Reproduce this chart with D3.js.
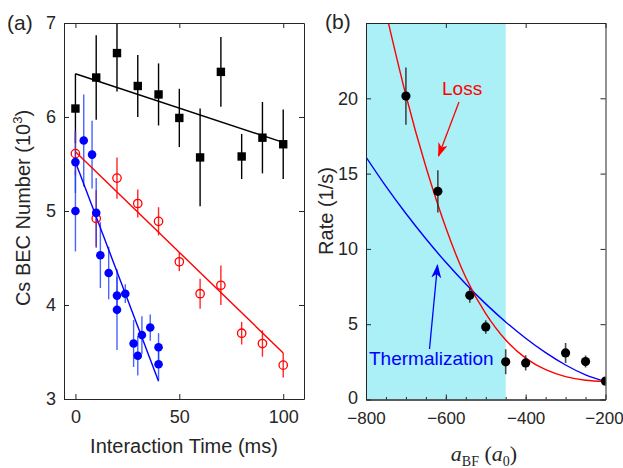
<!DOCTYPE html>
<html lang="en">
<head>
  <meta charset="UTF-8">
  <title>Cs BEC loss and rate</title>
  <script src="https://cdn.jsdelivr.net/npm/d3@7"></script>
  <style>
    body { margin: 0; background: #fff; }
    text { font-family: "Liberation Sans", Arial, sans-serif; fill: #262626; }
    .axis path, .axis line { stroke: #262626; }
    .axis text { font-size: 18px; fill: #262626; font-family: "Liberation Sans", Arial, sans-serif; }
  </style>
</head>
<body>
<svg id="chart" width="623" height="468"></svg>
<script>
  // ---- panel (a) data: Cs BEC number (10^3) vs interaction time (ms)
  const blackTime = [0, 10, 20, 30, 40, 50, 60, 70, 80, 90, 100];
  const blackNum = [6.09, 6.42, 6.68, 6.33, 6.24, 5.99, 5.57, 6.48, 5.58, 5.78, 5.71];
  const blackErr = [0.37, 0.45, 0.41, 0.33, 0.33, 0.31, 0.52, 0.37, 0.24, 0.38, 0.37];

  const redTime = [0, 10, 20, 30, 40, 50, 60, 70, 80, 90, 100];
  const redNum = [5.61, 4.92, 5.35, 5.08, 4.89, 4.46, 4.12, 4.21, 3.70, 3.59, 3.36];
  const redErr = [0.23, 0.30, 0.22, 0.15, 0.15, 0.10, 0.16, 0.21, 0.12, 0.14, 0.13];

  const blueTime = [0, 0, 4, 8, 10, 12, 16, 20, 20, 24, 28, 30, 32, 36, 40, 40];
  const blueNum = [5.52, 5.00, 5.75, 5.60, 4.98, 4.53, 4.34, 4.10, 3.95, 4.12, 3.59, 3.46, 3.68, 3.76, 3.55, 3.37];
  const blueErr = [0.33, 0.43, 0.49, 0.36, 0.37, 0.35, 0.28, 0.20, 0.43, 0.10, 0.25, 0.21, 0.20, 0.14, 0.15, 0.17];

  // fitted lines, end points
  const blackFit = [[0, 6.46], [100, 5.73]];
  const redFit = [[0, 5.63], [100, 3.49]];
  const blueFit = [[0, 5.52], [40, 3.19]];

  const timeTicks = [0, 50, 100];
  const numTicks = [3, 4, 5, 6, 7];

  // ---- panel (b) data: rate (1/s) vs a_BF (a0)
  const scatA = [-700, -620, -540, -500, -450, -400, -300, -250, -200];
  const scatRate = [20.15, 13.82, 6.92, 4.82, 2.50, 2.43, 3.09, 2.52, 1.22];
  const scatErr = [1.9, 1.4, 0.5, 0.45, 0.83, 0.5, 0.66, 0.4, 0.2];

  // model curves, sampled off the figure
  const lossCurve = [[-750, 25.7], [-700, 20.2], [-650, 15.45], [-600, 11.4], [-550, 8.1],
    [-500, 5.7], [-450, 3.95], [-400, 2.75], [-350, 1.98], [-300, 1.52], [-250, 1.28], [-200, 1.2]];
  const thermCurve = [[-800, 16.1], [-750, 14.15], [-700, 12.35], [-650, 10.67], [-600, 9.11],
    [-550, 7.67], [-500, 6.35], [-450, 5.15], [-400, 4.07], [-350, 3.11], [-300, 2.29],
    [-250, 1.64], [-200, 1.19]];

  const shadeRange = [-800, -450];
  const aTicks = [-800, -600, -400, -200];
  const aMinor = d3.range(-750, -200, 50);
  const rateTicks = [0, 5, 10, 15, 20];

  const svg = d3.select('#chart');

  const defs = svg.append('defs');
  defs.append('clipPath').attr('id', 'clipA')
    .append('rect').attr('x', 64).attr('y', 23).attr('width', 240).attr('height', 376);
  defs.append('clipPath').attr('id', 'clipB')
    .append('rect').attr('x', 366).attr('y', 23).attr('width', 239.5).attr('height', 376.5);

  ['red', 'blue'].forEach(c => {
    defs.append('marker')
      .attr('id', 'arrow-' + c)
      .attr('viewBox', '0 0 14 10')
      .attr('refX', 13).attr('refY', 5)
      .attr('markerWidth', 14).attr('markerHeight', 10)
      .attr('markerUnits', 'userSpaceOnUse')
      .attr('orient', 'auto')
      .append('path')
      .attr('d', 'M0,0 L14,5 L0,10 L4,5 Z')
      .attr('fill', c === 'red' ? '#ff0000' : '#0000ff');
  });

  {
    // (a)
    const x = d3.scaleLinear().domain([-5.5, 110]).range([64, 304]);
    const y = d3.scaleLinear().domain([3, 7]).range([399, 23]);

    const plot = svg.append('g').attr('clip-path', 'url(#clipA)');
    const line = d3.line().x(d => x(d[0])).y(d => y(d[1]));

    const drawBars = (ts, vs, es, color, opacity) => {
      plot.append('g').selectAll('line')
        .data(ts)
        .join('line')
        .attr('x1', d => x(d)).attr('x2', d => x(d))
        .attr('y1', (d, i) => y(vs[i] - es[i]))
        .attr('y2', (d, i) => y(vs[i] + es[i]))
        .attr('stroke', color)
        .attr('stroke-opacity', opacity)
        .attr('stroke-width', 1.4);
    };

    drawBars(blackTime, blackNum, blackErr, '#000', 1);
    drawBars(redTime, redNum, redErr, '#ff0000', 0.85);
    drawBars(blueTime, blueNum, blueErr, '#1a3cff', 0.8);

    plot.append('path').attr('d', line(blackFit)).attr('stroke', '#000').attr('stroke-width', 1.4).attr('fill', 'none');
    plot.append('path').attr('d', line(redFit)).attr('stroke', '#ff0000').attr('stroke-width', 1.4).attr('fill', 'none');
    plot.append('path').attr('d', line(blueFit)).attr('stroke', '#0000ff').attr('stroke-width', 1.4).attr('fill', 'none');

    plot.append('g').selectAll('circle')
      .data(redTime)
      .join('circle')
      .attr('cx', d => x(d))
      .attr('cy', (d, i) => y(redNum[i]))
      .attr('r', 4.2)
      .attr('fill', 'none')
      .attr('stroke', '#ff0000')
      .attr('stroke-width', 1.3);

    plot.append('g').selectAll('circle')
      .data(blueTime)
      .join('circle')
      .attr('cx', d => x(d))
      .attr('cy', (d, i) => y(blueNum[i]))
      .attr('r', 4.3)
      .attr('fill', '#0000ff');

    plot.append('g').selectAll('rect')
      .data(blackTime)
      .join('rect')
      .attr('x', d => x(d) - 4.2)
      .attr('y', (d, i) => y(blackNum[i]) - 4.2)
      .attr('width', 8.4).attr('height', 8.4)
      .attr('fill', '#000');

    svg.append('g').attr('class', 'axis').attr('transform', 'translate(0,399)')
      .call(d3.axisBottom(x).tickValues(timeTicks).tickSize(-5).tickSizeOuter(0).tickPadding(11));
    svg.append('g').attr('class', 'axis').attr('transform', 'translate(0,23)')
      .call(d3.axisTop(x).tickValues(timeTicks).tickSize(-5).tickSizeOuter(0).tickFormat(''));
    svg.append('g').attr('class', 'axis').attr('transform', 'translate(64,0)')
      .call(d3.axisLeft(y).tickValues(numTicks).tickFormat(d3.format('d'))
        .tickSize(-5).tickSizeOuter(0).tickPadding(8));
    svg.append('g').attr('class', 'axis').attr('transform', 'translate(304,0)')
      .call(d3.axisRight(y).tickValues(numTicks).tickSize(-5).tickSizeOuter(0).tickFormat(''));

    svg.append('text').attr('x', 184).attr('y', 453)
      .attr('text-anchor', 'middle').style('font-size', '20px')
      .text('Interaction Time (ms)');

    const yl = svg.append('text')
      .attr('transform', 'translate(30,208) rotate(-90)')
      .attr('text-anchor', 'middle').style('font-size', '20px');
    yl.append('tspan').text('Cs BEC Number (10');
    yl.append('tspan').attr('dy', -8).style('font-size', '13px').text('3');
    yl.append('tspan').attr('dy', 8).text(')');

    svg.append('text').attr('x', 7).attr('y', 30).style('font-size', '21px').text('(a)');
  }

  {
    // (b)
    const x = d3.scaleLinear().domain([-800, -200]).range([366, 605.5]);
    const y = d3.scaleLinear().domain([0, 25]).range([399.5, 23]);

    const plot = svg.append('g').attr('clip-path', 'url(#clipB)');

    plot.append('rect')
      .attr('x', x(shadeRange[0])).attr('y', y(25))
      .attr('width', x(shadeRange[1]) - x(shadeRange[0]))
      .attr('height', y(0) - y(25))
      .attr('fill', '#aaf0f6');

    const curve = d3.line().x(d => x(d[0])).y(d => y(d[1])).curve(d3.curveNatural);

    plot.append('path').attr('d', curve(thermCurve))
      .attr('stroke', '#0000ff').attr('stroke-width', 1.4).attr('fill', 'none');
    plot.append('path').attr('d', curve(lossCurve))
      .attr('stroke', '#ff0000').attr('stroke-width', 1.4).attr('fill', 'none');

    plot.append('g').selectAll('line')
      .data(scatA)
      .join('line')
      .attr('x1', d => x(d)).attr('x2', d => x(d))
      .attr('y1', (d, i) => y(scatRate[i] - scatErr[i]))
      .attr('y2', (d, i) => y(scatRate[i] + scatErr[i]))
      .attr('stroke', '#2b2b2b')
      .attr('stroke-opacity', 0.85)
      .attr('stroke-width', 1.6);

    plot.append('g').selectAll('circle')
      .data(scatA)
      .join('circle')
      .attr('cx', d => x(d))
      .attr('cy', (d, i) => y(scatRate[i]))
      .attr('r', 4.6)
      .attr('fill', '#000');

    svg.append('g').attr('class', 'axis').attr('transform', 'translate(0,399.5)')
      .call(d3.axisBottom(x).tickValues(aMinor).tickSize(-2.5).tickSizeOuter(0).tickFormat(''));
    const xb = svg.append('g').attr('class', 'axis').attr('transform', 'translate(0,399.5)')
      .call(d3.axisBottom(x).tickValues(aTicks).tickSize(-5).tickSizeOuter(0).tickPadding(12));
    xb.selectAll('text').style('font-size', '17px');
    // keep the last label inside the page
    xb.selectAll('.tick').filter(d => d === -200).select('text').attr('dx', -1.5);
    svg.append('g').attr('class', 'axis').attr('transform', 'translate(0,23)')
      .call(d3.axisTop(x).tickValues(aTicks).tickSize(-5).tickSizeOuter(0).tickFormat(''));
    const yb = svg.append('g').attr('class', 'axis').attr('transform', 'translate(366,0)')
      .call(d3.axisLeft(y).tickValues(rateTicks).tickSize(-5).tickSizeOuter(0).tickPadding(8));
    yb.selectAll('.tick').filter(d => d === 0).select('text').attr('dy', '0.2em');
    svg.append('g').attr('class', 'axis').attr('transform', 'translate(605.5,0)')
      .call(d3.axisRight(y).tickValues(rateTicks).tickSize(-5).tickSizeOuter(0).tickFormat(''));

    svg.append('text').attr('transform', 'translate(333,211) rotate(-90)')
      .attr('text-anchor', 'middle').style('font-size', '20px')
      .text('Rate (1/s)');

    const xl = svg.append('text').attr('x', 484).attr('y', 461)
      .attr('text-anchor', 'middle')
      .style('font-family', '"Liberation Serif", "DejaVu Serif", serif')
      .style('font-size', '22px');
    xl.append('tspan').style('font-style', 'italic').text('a');
    xl.append('tspan').attr('dy', 5).style('font-size', '14px').text('BF');
    xl.append('tspan').attr('dy', -5).text(' (');
    xl.append('tspan').style('font-style', 'italic').text('a');
    xl.append('tspan').attr('dy', 5).style('font-size', '14px').text('0');
    xl.append('tspan').attr('dy', -5).text(')');

    svg.append('text').attr('x', 325).attr('y', 29).style('font-size', '21px').text('(b)');

    // annotations
    svg.append('text').attr('x', 442).attr('y', 95)
      .style('font-size', '19px').style('fill', '#ff0000').text('Loss');
    svg.append('line')
      .attr('x1', 459).attr('y1', 102).attr('x2', 438.5).attr('y2', 156)
      .attr('stroke', '#ff0000').attr('stroke-width', 1.3)
      .attr('marker-end', 'url(#arrow-red)');

    svg.append('text').attr('x', 369).attr('y', 365)
      .style('font-size', '19px').style('fill', '#0000ff').text('Thermalization');
    svg.append('line')
      .attr('x1', 429.5).attr('y1', 349).attr('x2', 437.5).attr('y2', 265)
      .attr('stroke', '#0000ff').attr('stroke-width', 1.3)
      .attr('marker-end', 'url(#arrow-blue)');
  }
</script>
</body>
</html>
